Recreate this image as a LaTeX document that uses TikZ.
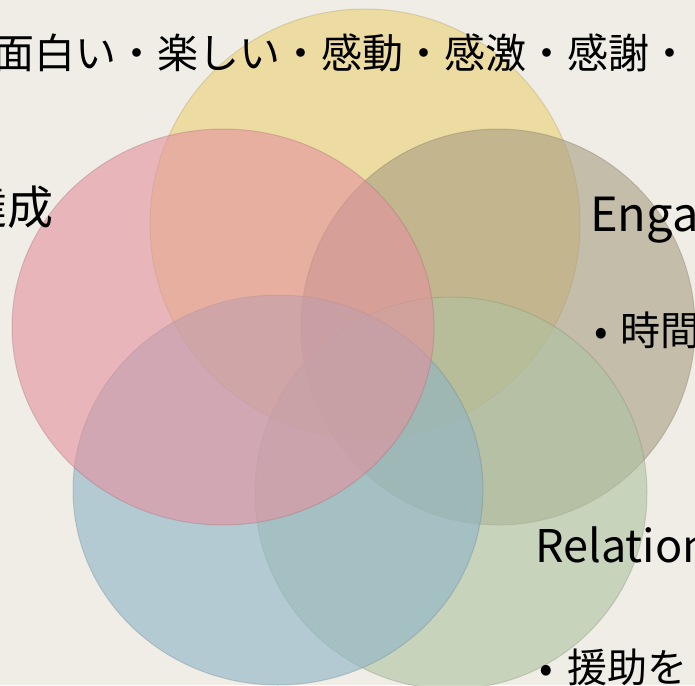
\documentclass[tikz,border=0pt]{standalone}
\usepackage{fontspec}
\setmainfont{Noto Sans CJK JP}
\usetikzlibrary{shapes.geometric}

\definecolor{bgbeige}{RGB}{239,237,230}
\definecolor{joyyellow}{RGB}{236,209,117}
\definecolor{acpink}{RGB}{227,145,158}
\definecolor{engtaupe}{RGB}{167,157,130}
\definecolor{relgreen}{RGB}{174,194,160}
\definecolor{meanblue}{RGB}{142,180,198}

\begin{document}
\begin{tikzpicture}[x=1pt,y=-1pt]
      \tikzstyle{petal}=[ellipse,inner sep=0pt,fill opacity=0.6,draw opacity=0.3,line width=1pt]
      \tikzstyle{lbl}=[inner sep=0pt,text=black]

      \useasboundingbox (0,0) rectangle (695,685);
      \clip (0,0) rectangle (695,685);
      \fill[bgbeige] (0,0) rectangle (695,685);

      % five overlapping circles
      \node[petal,fill=joyyellow,draw=joyyellow!70!black,minimum width=430pt,minimum height=430pt] (P) at (365,224) {};
      \node[petal,fill=engtaupe,draw=engtaupe!70!black,minimum width=394pt,minimum height=396pt]   (E) at (498,327) {};
      \node[petal,fill=relgreen,draw=relgreen!70!black,minimum width=392pt,minimum height=392pt]   (R) at (451,493) {};
      \node[petal,fill=meanblue,draw=meanblue!70!black,minimum width=410pt,minimum height=390pt]   (M) at (278,490) {};
      \node[petal,fill=acpink,draw=acpink!70!black,minimum width=422pt,minimum height=396pt]       (A) at (223,327) {};

      % texts, cut by the page edge
      \node[lbl,anchor=west,font=\fontsize{41}{49}\selectfont]      (Ptext) at (-7,53)   {面白い・楽しい・感動・感激・感謝・};
      \node[lbl,anchor=east,font=\fontsize{46}{55}\selectfont]      (Atext) at (54,207)  {達成};
      \node[lbl,anchor=base west,font=\fontsize{47}{56}\selectfont] (Etext) at (590,231) {Engagement};
      \node[lbl,anchor=west,font=\fontsize{40}{48}\selectfont]      (Eitem) at (594,330) {\makebox[26pt][l]{•}時間};
      \node[lbl,anchor=base west,font=\fontsize{45}{54}\selectfont] (Rtext) at (535,562) {Relationships};
      \node[lbl,anchor=west,font=\fontsize{40}{48}\selectfont]      (Ritem) at (539,667) {\makebox[28pt][l]{•}援助を};
\end{tikzpicture}
\end{document}
